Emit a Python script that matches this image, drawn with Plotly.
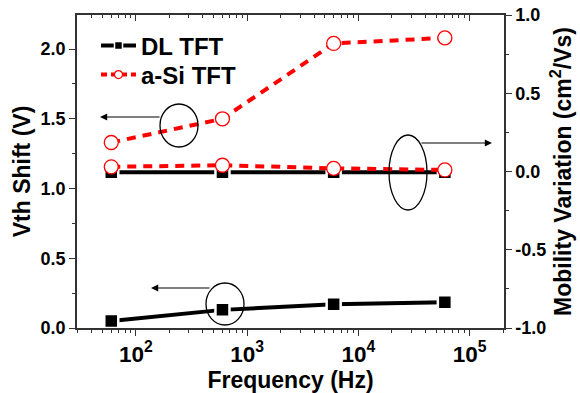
import plotly.graph_objects as go

freq = [60, 600, 6000, 60000]
dl_vth = [0.05, 0.13, 0.17, 0.185]
asi_vth = [1.33, 1.50, 2.04, 2.08]
dl_mob = [-0.005, -0.005, -0.005, -0.005]
asi_mob = [0.03, 0.04, 0.02, 0.01]

FONT = "Liberation Sans, Arial, sans-serif"
L, R, T, B = 77, 76, 15, 65
W, H = 580, 393
PW, PH = W - L - R, H - T - B

def px(x):
    return (x - L) / PW

def py(y):
    return (H - B - y) / PH

fig = go.Figure()

sq = dict(symbol="square", size=14, color="black", line=dict(color="white", width=2.5))
ci = dict(symbol="circle", size=14, color="white", line=dict(color="red", width=1.3))
DASH = "9px,7px"

fig.add_trace(go.Scatter(x=freq, y=dl_vth, mode="lines+markers", showlegend=False,
                         line=dict(color="black", width=4), marker=sq,
                         yaxis="y", xaxis="x"))
fig.add_trace(go.Scatter(x=freq, y=asi_vth, mode="lines+markers", showlegend=False,
                         line=dict(color="red", width=4, dash=DASH), marker=ci,
                         yaxis="y", xaxis="x"))
fig.add_trace(go.Scatter(x=freq, y=dl_mob, mode="lines+markers", showlegend=False,
                         line=dict(color="black", width=4), marker=sq,
                         yaxis="y2", xaxis="x"))
fig.add_trace(go.Scatter(x=freq, y=asi_mob, mode="lines+markers", showlegend=False,
                         line=dict(color="red", width=4, dash=DASH), marker=ci,
                         yaxis="y2", xaxis="x"))
# legend entries (small markers like the reference legend)
fig.add_trace(go.Scatter(x=[None], y=[None], mode="lines+markers", name="DL TFT",
                         line=dict(color="black", width=4),
                         marker=dict(symbol="square", size=8, color="black",
                                     line=dict(color="white", width=1.5)),
                         legend="legend"))
fig.add_trace(go.Scatter(x=[None], y=[None], mode="lines+markers", name="a-Si TFT",
                         line=dict(color="red", width=4, dash="6px,4px"),
                         marker=dict(symbol="circle", size=8, color="white",
                                     line=dict(color="red", width=1.2)),
                         legend="legend2"))
fig.add_trace(go.Scatter(x=[freq[0]], y=[None], xaxis="x2", yaxis="y",
                         showlegend=False, hoverinfo="skip"))

tickfont = dict(family=FONT, size=18, color="black", weight="bold")
titlefont = dict(family=FONT, size=23, color="black", weight="bold")
legfont = dict(family=FONT, size=24, color="black", weight="bold")
xr = [1.47, 5.31]
AX = "#333"

fig.update_layout(
    width=W, height=H,
    margin=dict(l=L, r=R, t=T, b=B, autoexpand=False),
    paper_bgcolor="white", plot_bgcolor="white",
    showlegend=True,
    legend=dict(x=px(96), y=py(46), xanchor="left", yanchor="middle",
                font=legfont, bgcolor="rgba(0,0,0,0)", itemwidth=35),
    legend2=dict(x=px(96), y=py(75), xanchor="left", yanchor="middle",
                 font=legfont, bgcolor="rgba(0,0,0,0)", itemwidth=35),
    xaxis=dict(type="log", range=xr, showgrid=False, zeroline=False,
               showline=True, linecolor=AX, linewidth=1.5,
               ticks="outside", ticklen=6, tickwidth=1.2, tickcolor=AX,
               dtick=1, exponentformat="power", tickfont=tickfont,
               minor=dict(ticks="outside", ticklen=3, tickwidth=1, tickcolor=AX),
               title=dict(text="Frequency (Hz)", font=titlefont, standoff=2)),
    xaxis2=dict(type="log", range=xr, overlaying="x", side="top", showgrid=False,
                zeroline=False, showline=True, linecolor=AX, linewidth=1.5,
                ticks="inside", ticklen=6, tickwidth=1.2, tickcolor=AX,
                dtick=1, showticklabels=False,
                minor=dict(ticks="inside", ticklen=3, tickwidth=1, tickcolor=AX)),
    yaxis=dict(range=[0, 2.244], showgrid=False, zeroline=False,
               showline=True, linecolor=AX, linewidth=1.5,
               ticks="outside", ticklen=6, tickwidth=1.2, tickcolor=AX,
               tickvals=[0, 0.5, 1.0, 1.5, 2.0], ticktext=["0.0", "0.5", "1.0", "1.5", "2.0"],
               tickfont=tickfont,
               minor=dict(ticks="outside", ticklen=3, tickwidth=1, tickcolor=AX,
                          tickvals=[0.25, 0.75, 1.25, 1.75]),
               title=dict(text="Vth Shift (V)", font=titlefont, standoff=4)),
    yaxis2=dict(range=[-1.0, 1.0], overlaying="y", side="right", showgrid=False,
                zeroline=False, showline=True, linecolor=AX, linewidth=1.5,
                ticks="outside", ticklen=6, tickwidth=1.2, tickcolor=AX,
                tickvals=[-1.0, -0.5, 0.0, 0.5, 1.0],
                ticktext=["-1.0", "-0.5", "0.0", "0.5", "1.0"],
                tickfont=tickfont,
                minor=dict(ticks="outside", ticklen=3, tickwidth=1, tickcolor=AX,
                           tickvals=[-0.75, -0.25, 0.25, 0.75]),
                title=dict(text="Mobility Variation (cm<sup>2</sup>/Vs)",
                           font=titlefont, standoff=6)),
)

ellipses = [(160, 198, 104, 147), (389, 427, 135, 210), (206, 244, 283, 325)]
for x0, x1, y0, y1 in ellipses:
    fig.add_shape(type="circle", xref="paper", yref="paper",
                  x0=px(x0), x1=px(x1), y0=py(y1), y1=py(y0),
                  line=dict(color="black", width=1.3))

arrows = [((100, 117), (161, 117)), ((492, 143), (420, 143)), ((151, 288), (211, 288))]
for (hx, hy), (tx, ty) in arrows:
    fig.add_annotation(x=px(hx), y=py(hy), xref="paper", yref="paper",
                       ax=tx - hx, ay=ty - hy, axref="pixel", ayref="pixel",
                       showarrow=True, arrowhead=2, arrowsize=1.2, arrowwidth=1.2,
                       arrowcolor="black", text="")

fig.write_html("out.html")
